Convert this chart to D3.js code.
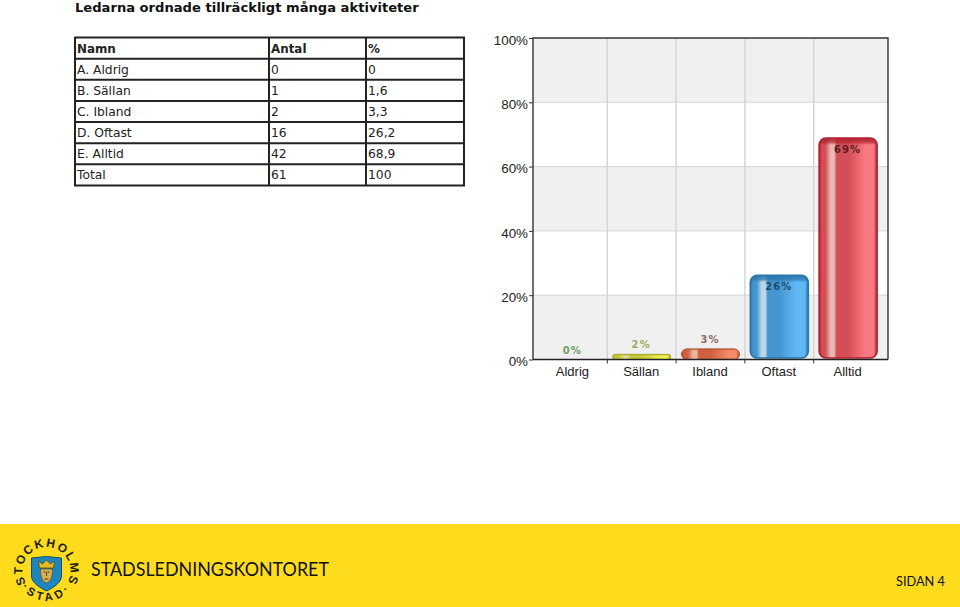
<!DOCTYPE html>
<html><head><meta charset="utf-8">
<script src="https://cdn.jsdelivr.net/npm/d3@7"></script>
<style>html,body{margin:0;padding:0;background:#fff}svg{display:block}</style>
</head><body><svg id="c" width="960" height="607"></svg>
<script>
const title = "Ledarna ordnade tillräckligt många aktiviteter";
const tableHeader = ["Namn", "Antal", "%"];
const rowNames = ["A. Aldrig", "B. Sällan", "C. Ibland", "D. Oftast", "E. Alltid", "Total"];
const counts = ["0", "1", "2", "16", "42", "61"];
const percentText = ["0", "1,6", "3,3", "26,2", "68,9", "100"];
const categories = ["Aldrig", "Sällan", "Ibland", "Oftast", "Alltid"];
const values = [0, 1.6, 3.3, 26.2, 68.9];
const barLabels = ["0%", "2%", "3%", "26%", "69%"];
const yTicks = [0, 20, 40, 60, 80, 100];
const colours = [
  {lab:"#6f9f68", dark:"#3c8a3c", mid:"#5cb85c", light:"#8fd88f", hi:"#cfeccf"},
  {lab:"#a6a664", dark:"#a9a92c", mid:"#c8c83a", light:"#eeee50", hi:"#dcdc90"},
  {lab:"#8f6a6a", dark:"#b04c2c", mid:"#d06040", light:"#f58a68", hi:"#eeb49c"},
  {lab:"#1d4a6e", dark:"#2a76ac", mid:"#4596d0", light:"#62b8f4", hi:"#bcd8e8"},
  {lab:"#5e2028", dark:"#b0222e", mid:"#d44e56", light:"#f97a80", hi:"#eab8b6"}
];
const footerName = "STADSLEDNINGSKONTORET";
const pageLabel = "SIDAN 4";
const sealTop = "STOCKHOLMS";
const sealBottom = "·STAD·";

const svg = d3.select("#c");
const verdana = "'DejaVu Sans', Verdana, sans-serif";
const arial = "'Liberation Sans', Arial, sans-serif";

/* title */
svg.append("text").attr("x",75).attr("y",12).attr("font-family",verdana).attr("font-weight","bold")
   .attr("font-size",13.1).attr("fill","#111").text(title);

/* table */
const rows = [tableHeader].concat(rowNames.map((n,i)=>[n,counts[i],percentText[i]]));
const colEdges = [75,269,366,464];
const rowY = d3.scaleLinear().domain([0,rows.length]).range([37.5,185.5]);
const tbl = svg.append("g");
const tableLines = tbl.append("g").attr("stroke","#222").attr("stroke-width",2);
tableLines.selectAll("line.h").data(d3.range(rows.length+1)).join("line")
  .attr("x1",colEdges[0]-1).attr("x2",colEdges[3]+1).attr("y1",d=>rowY(d)).attr("y2",d=>rowY(d));
tableLines.selectAll("line.v").data(colEdges).join("line")
  .attr("x1",d=>d).attr("x2",d=>d).attr("y1",rowY(0)).attr("y2",rowY(rows.length));
rows.forEach((r,i)=>{
  tbl.selectAll(null).data(r).join("text")
    .attr("x",(d,j)=>colEdges[j]+2).attr("y",rowY(i)+15)
    .attr("font-family",verdana).attr("font-size",i===0?11.9:12.3)
    .attr("font-weight",i===0?"bold":"normal").attr("fill","#222").text(d=>d);
});

/* chart */
const frame = {l:533,r:888,t:38,b:359.5};
const y = d3.scaleLinear().domain([0,100]).range([frame.b,frame.t]);
const x = d3.scaleBand().domain(categories).range([538.5,882.5]).paddingInner(0).paddingOuter(0);
const g = svg.append("g");
const barW = 58;
const barData = categories.map((c,i)=>({c,v:values[i],i,l:barLabels[i]}));

const defs = svg.append("defs");
colours.forEach((c,i)=>{
  const lg = defs.append("linearGradient").attr("id","bar"+i).attr("x1",0).attr("x2",1).attr("y1",0).attr("y2",0);
  [[0,c.dark],[0.05,c.mid],[0.11,c.mid],[0.2,c.hi],[0.26,c.hi],[0.3,c.mid],[0.5,c.mid],[0.8,c.light],[0.94,c.light],[1,c.dark]]
    .forEach(s=>lg.append("stop").attr("offset",s[0]).attr("stop-color",s[1]));
  const v = values[i];
  const big = frame.b - y(v) > 12;
  const cap = defs.append("linearGradient").attr("id","cap"+i).attr("gradientUnits","userSpaceOnUse")
    .attr("x1",0).attr("x2",0).attr("y1",y(v)).attr("y2",y(v)+(big?7:2));
  cap.append("stop").attr("offset",0).attr("stop-color",c.dark).attr("stop-opacity",big?0.95:0.5);
  cap.append("stop").attr("offset",0.6).attr("stop-color",c.dark).attr("stop-opacity",big?0.7:0.2);
  cap.append("stop").attr("offset",1).attr("stop-color",c.dark).attr("stop-opacity",0);
});

/* alternating bands */
g.selectAll("rect.band").data(yTicks.slice(0,-1)).join("rect")
  .attr("x",frame.l).attr("width",frame.r-frame.l)
  .attr("y",d=>y(d+20)).attr("height",d=>y(d)-y(d+20))
  .attr("fill",(d,i)=>i%2===0?"#f0f0f0":"#ffffff");
/* grid */
g.selectAll("line.gy").data(yTicks.slice(1,-1)).join("line")
  .attr("x1",frame.l).attr("x2",frame.r).attr("y1",d=>y(d)).attr("y2",d=>y(d))
  .attr("stroke","#d6d6d6").attr("stroke-width",1);
g.selectAll("line.gx").data(categories.slice(1)).join("line")
  .attr("x1",d=>x(d)).attr("x2",d=>x(d)).attr("y1",frame.t).attr("y2",frame.b)
  .attr("stroke","#d4d4d4").attr("stroke-width",1.4);
/* bars */
const bars = barData.filter(d=>d.v>0);
const place = s => s
  .attr("x",d=>x(d.c)+x.bandwidth()/2-barW/2).attr("width",barW)
  .attr("y",d=>y(d.v)).attr("height",d=>frame.b-y(d.v)-(d.v>10?1.5:0))
  .attr("rx",d=>Math.min(7,(frame.b-y(d.v))/2));
g.selectAll("rect.bar").data(bars).join("rect").call(place)
  .attr("fill",d=>`url(#bar${d.i})`)
  .attr("stroke",d=>colours[d.i].dark).attr("stroke-width",d=>d.v>10?1.6:1);
g.selectAll("rect.cap").data(bars).join("rect").call(place)
  .attr("fill",d=>`url(#cap${d.i})`);
/* frame */
g.append("path").attr("d",`M${frame.l},${frame.b}V${frame.t}H${frame.r}V${frame.b}`)
  .attr("fill","none").attr("stroke","#333").attr("stroke-width",1.4);
/* axes */
const yAxis = d3.axisLeft(y).tickValues(yTicks).tickFormat(d=>d+"%").tickSize(4).tickPadding(2);
const ya = svg.append("g").attr("transform",`translate(${frame.l},0)`).call(yAxis);
ya.select(".domain").remove();
ya.selectAll("line").attr("stroke","#333");
ya.selectAll("text").attr("font-family",arial).attr("font-size",13.4).attr("fill","#222").attr("dy","0.32em")
  .attr("transform","translate(1,2)");
svg.append("line").attr("x1",frame.l).attr("x2",frame.r).attr("y1",frame.b).attr("y2",frame.b).attr("stroke","#222").attr("stroke-width",1.5);
svg.selectAll("line.xt").data(categories.slice(1)).join("line")
  .attr("x1",d=>x(d)).attr("x2",d=>x(d)).attr("y1",frame.b).attr("y2",frame.b+4).attr("stroke","#333");
svg.selectAll("text.xl").data(categories).join("text")
  .attr("x",d=>x(d)+x.bandwidth()/2-0.5).attr("y",frame.b+16).attr("text-anchor","middle")
  .attr("font-family",arial).attr("font-size",13).attr("fill","#222").text(d=>d);
/* value labels */
svg.selectAll("text.vl").data(barData).join("text")
  .attr("x",d=>x(d.c)+x.bandwidth()/2-0.5).attr("text-anchor","middle")
  .attr("y",d=>d.v>10? y(d.v)+15 : y(d.v)-6)
  .attr("font-family",verdana).attr("font-weight","bold").attr("font-size",10)
  .attr("letter-spacing",1.1).attr("fill",d=>colours[d.i].lab).text(d=>d.l);

/* footer */
svg.append("rect").attr("x",0).attr("y",524).attr("width",960).attr("height",83).attr("fill","#fedc1d");
const seal = svg.append("g").attr("transform","translate(46.5,571)");
defs.append("path").attr("id","sealArcTop").attr("d","M-17,17A24,24 0 1 1 17,17");
defs.append("path").attr("id","sealArcBot").attr("d","M-28,10A29.7,29.7 0 0 0 28,10");
seal.append("text").attr("font-family",arial).attr("font-weight","bold").attr("font-size",12).attr("fill","#1c1c10").attr("letter-spacing",1.6)
  .append("textPath").attr("href","#sealArcTop").attr("startOffset","50%").attr("text-anchor","middle").text(sealTop);
seal.append("text").attr("font-family",arial).attr("font-weight","bold").attr("font-size",11.5).attr("fill","#1c1c10").attr("letter-spacing",3.6)
  .append("textPath").attr("href","#sealArcBot").attr("startOffset","50%").attr("text-anchor","middle").text(sealBottom);
seal.append("path").attr("d","M-15,-13Q0,-16 15,-13V5C15,12 6,17 0,20C-6,17 -15,12 -15,5Z").attr("fill","#1f86bd").attr("stroke","#14506e").attr("stroke-width",1);
seal.append("path").attr("d","M-6,-2C-6,8 -3,11 0,12C3,11 6,8 6,-2Z").attr("fill","#d8b24e").attr("stroke","#5a4a20").attr("stroke-width",.7);
seal.append("path").attr("d","M-7,-3L-8,-10L-4,-7L0,-11L4,-7L8,-10L7,-3Z").attr("fill","#e2bc20").attr("stroke","#4a3c18").attr("stroke-width",.7);
seal.append("path").attr("d","M-3,1H-1M1,1H3M0,1V5M-2,8H2").attr("stroke","#4a3a18").attr("stroke-width",1);
svg.append("text").attr("x",91).attr("y",576).attr("font-family","Lato, sans-serif").attr("font-size",20)
  .attr("textLength",238).attr("lengthAdjust","spacingAndGlyphs").attr("fill","#111").text(footerName);
svg.append("text").attr("x",896).attr("y",586).attr("font-family","Lato, sans-serif").attr("font-size",14)
  .attr("textLength",49).attr("lengthAdjust","spacingAndGlyphs").attr("fill","#111").text(pageLabel);
</script></body></html>
